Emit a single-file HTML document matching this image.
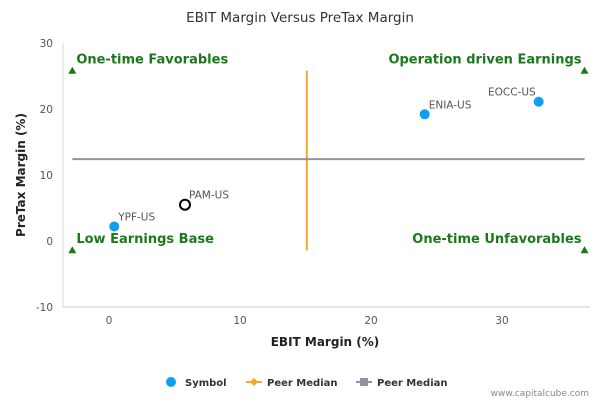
<!DOCTYPE html>
<html><head><meta charset="utf-8"><style>
body{margin:0;background:#fff;font-family:"DejaVu Sans",sans-serif}
svg text{font-family:"DejaVu Sans",sans-serif}
</style></head><body>
<svg id="chart" width="600" height="400">
<rect width="600" height="400" fill="#fff"/>
<text x="300" y="22" text-anchor="middle" font-size="13.5" fill="#333">EBIT Margin Versus PreTax Margin</text>
<line x1="63" y1="43" x2="63" y2="307" stroke="#ddd"/>
<line x1="63" y1="307" x2="590" y2="307" stroke="#ccc"/>
<g id="ticks"></g>
<text x="325" y="346" text-anchor="middle" font-size="12" font-weight="bold" fill="#222">EBIT Margin (%)</text>
<text transform="translate(25,175) rotate(-90)" text-anchor="middle" font-size="12" font-weight="bold" fill="#222">PreTax Margin (%)</text>
<g id="marks"></g>
<g>
<circle cx="171" cy="382" r="5" fill="#0ea0f0"/>
<text x="185" y="386" font-size="10" font-weight="bold" fill="#333">Symbol</text>
<line x1="246" y1="382" x2="262" y2="382" stroke="#f5a623" stroke-width="2"/>
<path d="M254 378 L258 382 L254 386 L250 382Z" fill="#f5a623"/>
<text x="267" y="386" font-size="10" font-weight="bold" fill="#333">Peer Median</text>
<line x1="356" y1="382" x2="372" y2="382" stroke="#8e94a0" stroke-width="2"/>
<rect x="360" y="378" width="8" height="8" fill="#8e94a0"/>
<text x="377" y="386" font-size="10" font-weight="bold" fill="#333">Peer Median</text>
</g>
<text x="589" y="396" text-anchor="end" font-size="9" fill="#888">www.capitalcube.com</text>
</svg>
<script>
const xTicks=[0,10,20,30];
const yTicks=[30,20,10,0,-10];
const symbols=["YPF-US","PAM-US","ENIA-US","EOCC-US"];
const ebit=[0.4,5.8,24.1,32.8];
const pretax=[2.2,5.5,19.2,21.1];
const hollow=[false,true,false,false];
const medianX=[15.1];
const medianXRange=[25.8,-1.4];
const medianY=[12.4];
const medianYRange=[-2.8,36.3];
const quadLabels=["One-time Favorables","Operation driven Earnings","Low Earnings Base","One-time Unfavorables"];
const quadX=[-2.8,36.3,-2.8,36.3];
const quadY=[25.8,25.8,-1.4,-1.4];
const X=v=>109+v*13.1, Y=v=>241-v*6.6;
const NS="http://www.w3.org/2000/svg";
function mk(p,t,a){const e=document.createElementNS(NS,t);for(const k in a)e.setAttribute(k,a[k]);p.appendChild(e);return e;}
const tk=document.getElementById('ticks'), mg=document.getElementById('marks');
xTicks.forEach(v=>{const t=mk(tk,'text',{x:X(v),y:324,'text-anchor':'middle','font-size':10.5,fill:'#555'});t.textContent=v;

});
yTicks.forEach(v=>{const t=mk(tk,'text',{x:53,y:Y(v)+4,'text-anchor':'end','font-size':10.5,fill:'#555'});t.textContent=v;

});
const vl=mk(mg,'line',{x1:X(medianX[0]),x2:X(medianX[0]),y1:Y(medianXRange[0]),y2:Y(medianXRange[1]),stroke:'#f5a623','stroke-width':2});


const hl=mk(mg,'line',{x1:X(medianYRange[0]),x2:X(medianYRange[1]),y1:Y(medianY[0]),y2:Y(medianY[0]),stroke:'#8e94a0','stroke-width':2});


quadLabels.forEach((s,i)=>{const x=X(quadX[i]),y=Y(quadY[i]);
const tr=mk(mg,'path',{d:`M${x} ${y-4} L${x+4} ${y+3} L${x-4} ${y+3}Z`,fill:'#1a7a1a'});


const left=i%2==0;
const t=mk(mg,'text',{x:left?x+4:x-3,y:y-7,'text-anchor':left?'start':'end','font-size':13,'font-weight':'bold',fill:'#1a7a1a'});t.textContent=s;

});
symbols.forEach((s,i)=>{const x=X(ebit[i]),y=Y(pretax[i]);
const c=mk(mg,'circle',hollow[i]?{cx:x,cy:y,r:5,fill:'#fff',stroke:'#000','stroke-width':2}:{cx:x,cy:y,r:5,fill:'#0ea0f0'});


const t=mk(mg,'text',{x:x+(i==3?-3:4),y:y-6,'text-anchor':i==3?'end':'start','font-size':10.5,fill:'#555'});t.textContent=s;

});
</script>
</body></html>
